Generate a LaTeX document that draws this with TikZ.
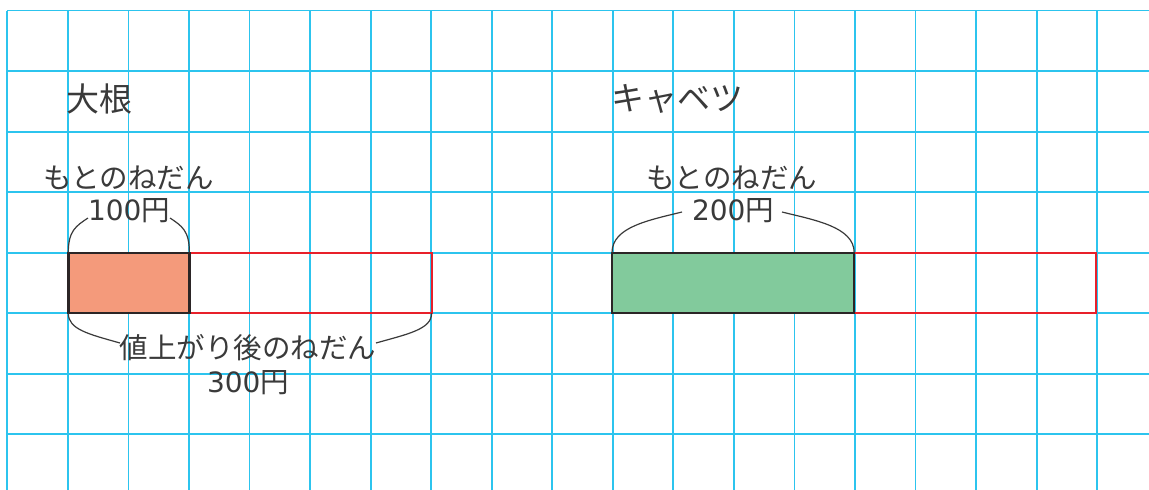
\documentclass[tikz,border=0pt]{standalone}
\usepackage{fontspec}
\newfontfamily\jp{Noto Sans CJK JP}
\newfontfamily\dg{DejaVu Sans}
\definecolor{gridc}{HTML}{2CC4EE}
\definecolor{redc}{HTML}{E8202A}
\definecolor{orangec}{HTML}{F49A7B}
\definecolor{greenc}{HTML}{82CA9C}
\definecolor{txtc}{HTML}{3A3A3A}
\definecolor{edgec}{HTML}{2B2526}
\tikzset{
  gridline/.style={gridc, line width=1.8pt},
  barbox/.style={draw=edgec, line width=2.4pt, inner sep=0pt, outer sep=0pt, anchor=north west, minimum height=60.55pt},
  redbox/.style={draw=redc, line width=2.1pt, inner sep=0pt, outer sep=0pt, anchor=north west, minimum height=60.55pt},
  bracecurve/.style={draw=txtc, line width=1.2pt},
  title/.style={font=\jp\fontsize{33}{33}\selectfont, text=txtc, inner sep=0pt, anchor=west},
  lab/.style={font=\jp\fontsize{28.5}{28.5}\selectfont, text=txtc, inner sep=0pt},
}
\newcommand{\dgt}[1]{{\dg\fontsize{28}{28}\selectfont #1}}
\begin{document}
\begin{tikzpicture}[x=1pt,y=-1pt]
\useasboundingbox (0,0) rectangle (1149,490);
\fill[white] (0,0) rectangle (1149,490);
% grid
\foreach \k in {0,...,18} {
  \draw[gridline] ({7.3+60.55*\k},10.5) -- ({7.3+60.55*\k},490);
}
\foreach \k in {0,...,7} {
  \draw[gridline] (7.3,{10.5+60.55*\k}) -- (1149,{10.5+60.55*\k});
}
% daikon
\node[redbox, minimum width=242.2pt] (dkr) at (189.4,252.7) {};
\node[barbox, fill=orangec, minimum width=121.1pt] (dk) at (68.3,252.7) {};
\node[title] (t1) at (66,99) {大根};
\node[lab] (d1a) at (128.5,178) {もとのねだん};
\node[lab] (d1b) at (129,211) {\dgt{100}円};
\coordinate (dkL) at (88,218);
\coordinate (dkR) at (170,218);
\draw[bracecurve] (dk.north west) .. controls +(0,-22) and +(-12,8) .. (dkL);
\draw[bracecurve] (dkR) .. controls +(12,8) and +(0,-22) .. (dk.north east);
\node[lab] (d2a) at (248,348) {値上がり後のねだん};
\node[lab] (d2b) at (248,383) {\dgt{300}円};
\coordinate (dbL) at (120,343);
\coordinate (dbR) at (376,343);
\draw[bracecurve] (dk.south west) .. controls +(0,16) and +(-32,-9) .. (dbL);
\draw[bracecurve] (dbR) .. controls +(32,-9) and +(0,16) .. (dkr.south east);
% cabbage
\node[redbox, minimum width=242.2pt] (cbr) at (854.2,252.7) {};
\node[barbox, fill=greenc, minimum width=242.2pt] (cb) at (612,252.7) {};
\node[title] (t2) at (611,99) {キャベツ};
\node[lab] (c1a) at (732,178) {もとのねだん};
\node[lab] (c1b) at (733,211) {\dgt{200}円};
\coordinate (cbL) at (682,212);
\coordinate (cbR) at (782,212);
\draw[bracecurve] (cb.north west) .. controls +(0,-26) and +(-32,8) .. (cbL);
\draw[bracecurve] (cbR) .. controls +(32,8) and +(0,-26) .. (cb.north east);
\end{tikzpicture}
\end{document}
